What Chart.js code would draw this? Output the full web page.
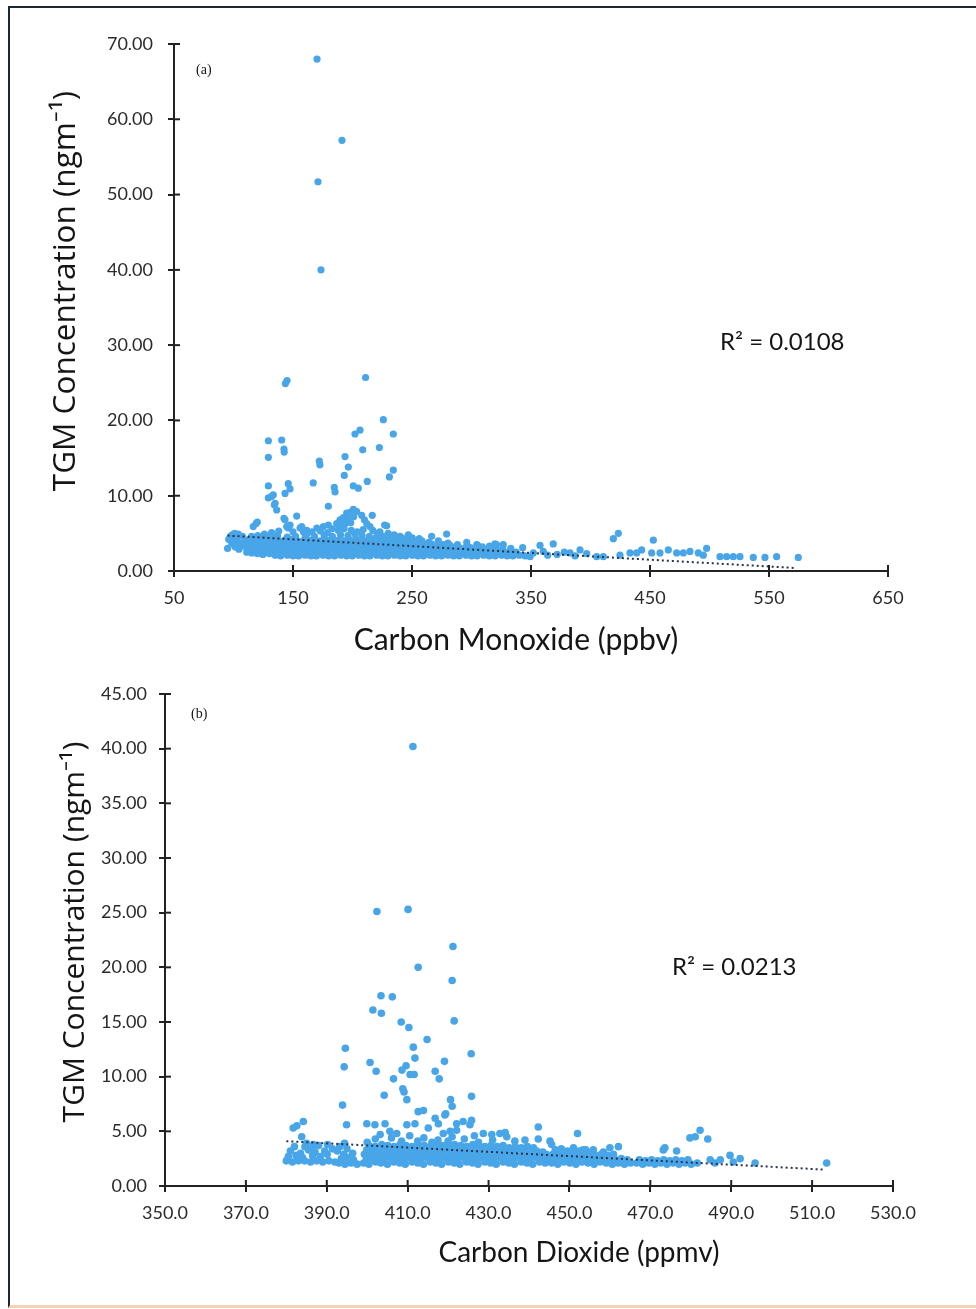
<!DOCTYPE html>
<html>
<head>
<meta charset="utf-8">
<script src="https://cdn.jsdelivr.net/npm/chart.js@4.4.1/dist/chart.umd.min.js"></script>
<style>
  html, body { margin: 0; padding: 0; background: #fff; }
  #page { position: relative; width: 976px; height: 1309px; overflow: hidden; background: #fff; }
  #frame { position: absolute; left: 8px; top: 6px; width: 1000px; height: 1297px;
           border-left: 2px solid #1d2633; border-top: 2px solid #1d2633; border-bottom: 3px solid #f3d4b2; }
  canvas { position: absolute; left: 0; }
  #chartA { top: 0; }
  #chartB { top: 660px; }
</style>
</head>
<body>
<div id="page">
  <div id="frame"></div>
  <canvas id="chartA" width="976" height="660"></canvas>
  <canvas id="chartB" width="976" height="649"></canvas>
</div>
<script>
// ---- (a) Carbon Monoxide vs TGM ----
const coPeaks = [[170.2,68.0],[191.2,57.2],[171.0,51.7],[173.5,40.0],[145.0,25.3],[143.6,24.9],[211.0,25.7],
  [225.9,20.1],[234.3,18.2],[206.3,18.7],[202.1,18.2],[208.6,16.1],[222.6,16.4],[193.7,15.2],[196.5,13.8],
  [172.1,14.6],[172.6,14.1],[234.3,13.4],[231.0,12.5],[193.1,12.7],[167.0,11.7],[212.4,11.9],[200.7,11.3],
  [204.9,11.0],[184.7,11.1],[185.3,10.5],[129.3,17.3],[140.5,17.4],[129.3,15.1],[142.4,16.2],[142.6,15.8],
  [129.3,11.3],[146.0,11.6],[147.5,10.9],[143.3,10.3],[129.3,9.7],[133.4,10.1],[134.3,8.8],[136.3,8.1],
  [132.0,9.9],[135.0,9.0]];
const coSpread = [[179.7,8.6],[153.1,7.3],[142.4,7.0],[143.3,6.8],[216.6,7.4],[228.7,6.0],[227.0,6.1],[223.0,5.2],
  [118.9,6.3],[116.6,5.9],[120.0,6.5],[144.7,5.9],[146.0,5.7],[155.9,5.7],[158.7,5.2],[157.3,5.9],[161.5,5.4],
  [147.5,6.1],[170.0,5.7],[175.5,5.9],[179.7,6.1],[186.7,6.3],[192.3,7.1],[195.1,7.7],[200.7,8.2],[198.0,7.8],
  [203.5,7.9],[207.7,7.4],[189.5,6.8],[196.0,6.9],[201.0,7.2],[210.0,6.8],[212.0,6.3],[214.7,5.9],[190.0,6.1],
  [194.0,6.3],[198.5,6.4],[183.0,5.6],[188.0,5.4],[193.0,5.6],[199.0,5.4],[204.0,5.2],[209.0,5.5],[217.0,5.4],
  [221.0,5.0],[166.0,5.2],[173.0,5.3],[179.0,5.1],[162.0,5.0],[230.0,5.0],[235.0,4.8],[240.0,4.6],[246.9,4.8],
  [266.5,4.6],[272.1,4.0],[279.1,4.9],[296.0,3.8],[304.4,3.5],[319.7,3.6],[326.7,3.5],[138.0,5.3],[132.0,5.1],
  [126.0,4.9],[150.0,5.2],[104.0,4.9],[99.0,4.8],[101.0,5.0],
  [95.0,3.0],[96.0,4.2],[97.5,4.6],[98.5,3.6],[100.0,4.3],[101.5,3.2],[103.0,4.0],[104.5,2.9],[106.0,3.7],
  [107.5,4.6],[109.0,3.3],[110.5,4.1],[111.1,2.5],[113.0,3.6]];
const coBandLow = [[115.4,2.4],[120.1,2.3],[124.7,2.2],[130.2,2.3],[135.0,2.1],[139.6,2.0],[145.3,2.1],[150.1,2.0],
  [154.8,2.0],[160.2,2.1],[165.1,2.0],[169.7,2.0],[175.2,2.1],[180.0,2.0],[184.9,2.0],[190.3,2.1],[195.1,2.0],
  [199.8,2.0],[205.2,2.1],[210.0,2.0],[214.7,2.0],[220.3,2.1],[225.0,2.0],[229.8,2.0],[235.2,2.1],[240.1,2.0],
  [244.8,2.0],[250.3,2.1],[255.0,2.0],[259.7,2.0],[265.2,2.1],[270.0,2.0],[274.9,2.0],[280.2,2.1],[285.1,2.0],
  [289.8,2.0],[295.3,2.1],[300.0,2.0],[304.7,2.0],[310.2,2.1],[315.0,2.0],[319.9,2.0],[325.3,2.1],[330.0,2.0],
  [334.8,2.0],[340.1,2.1],
  [117.6,2.7],[122.4,2.6],[127.5,2.5],[132.3,2.7],[137.6,2.6],[142.4,2.5],[147.7,2.6],[152.5,2.7],[157.3,2.5],
  [162.6,2.6],[167.4,2.7],[172.5,2.5],[177.6,2.6],[182.3,2.6],[187.5,2.7],[192.6,2.5],[197.4,2.6],[202.5,2.6],
  [207.7,2.7],[212.3,2.5],[217.5,2.6],[222.6,2.6],[227.4,2.7],[232.5,2.5],[237.6,2.6],[242.3,2.6],[247.5,2.7],
  [252.6,2.5],[257.4,2.6],[262.5,2.6],[267.6,2.7],[272.3,2.5],[277.5,2.6],[282.6,2.6],[287.4,2.7],[292.5,2.5],
  [297.6,2.6],[302.3,2.6],[307.5,2.7],[312.6,2.5],[317.4,2.6],[322.5,2.6],[327.6,2.5],[332.4,2.7],[337.5,2.5]];
const coBandMid = [[114.2,3.1],[119.0,3.2],[124.3,3.0],[129.1,3.1],[134.2,3.2],[139.0,3.0],[144.3,3.1],[149.1,3.2],
  [154.2,3.1],[159.0,3.0],[164.3,3.1],[169.1,3.2],[174.2,3.0],[179.0,3.1],[184.3,3.2],[189.1,3.1],[194.2,3.0],
  [199.0,3.1],[204.3,3.2],[209.1,3.0],[214.2,3.1],[219.0,3.2],[224.3,3.1],[229.1,3.0],[234.2,3.1],[239.0,3.2],
  [244.3,3.0],[249.1,3.1],[254.2,3.2],[259.0,3.1],[264.3,3.0],[269.1,3.1],[274.2,3.2],[279.0,3.0],[284.3,3.1],
  [289.1,3.2],[294.2,3.0],[299.0,3.1],[304.3,3.0],[309.1,3.2],[314.2,3.0],[320.0,3.1],[326.1,2.9],[333.0,3.0],
  [116.3,3.6],[121.1,3.7],[126.2,3.5],[131.0,3.6],[136.3,3.7],[141.1,3.5],[146.2,3.6],[151.0,3.7],[156.3,3.6],
  [161.1,3.5],[166.2,3.6],[171.0,3.7],[176.3,3.5],[181.1,3.6],[186.2,3.7],[191.0,3.6],[196.3,3.5],[201.1,3.6],
  [206.2,3.7],[211.0,3.5],[216.3,3.6],[221.1,3.7],[226.2,3.6],[231.0,3.5],[236.3,3.6],[241.1,3.7],[246.2,3.5],
  [251.0,3.6],[256.3,3.6],[261.1,3.5],[266.2,3.6],[271.0,3.4],[276.3,3.5],[282.0,3.4],[288.2,3.5],[296.0,3.3],
  [305.1,3.4],[315.2,3.3],[321.0,3.5]];
const coBandHigh = [[113.8,4.1],[118.3,4.2],[123.1,4.0],[128.2,4.1],[133.0,4.2],[138.3,4.0],[143.1,4.1],[148.2,4.2],
  [153.0,4.1],[158.3,4.0],[163.1,4.1],[168.2,4.2],[173.0,4.0],[178.3,4.1],[183.1,4.2],[188.2,4.1],[193.0,4.0],
  [198.3,4.1],[203.1,4.2],[208.2,4.0],[213.0,4.1],[218.3,4.2],[223.1,4.0],[228.2,4.1],[233.0,4.0],[238.3,4.1],
  [243.1,3.9],[248.2,4.0],[253.0,3.9],[258.3,4.0],[264.1,3.8],[272.0,3.9],[280.2,3.7],
  [115.2,4.6],[120.4,4.7],[126.1,4.5],[131.3,4.6],[137.0,4.7],[145.2,4.5],[152.1,4.6],[160.3,4.5],[168.0,4.6],
  [176.2,4.7],[183.1,4.6],[190.0,4.8],[196.2,4.7],[202.1,4.9],[208.0,4.7],[214.2,4.6],[220.1,4.5],[226.0,4.6],
  [232.2,4.4],[238.1,4.5],[244.0,4.3],[250.2,4.4],[256.1,4.3]];
const coTail = [[343.0,3.1],[345.0,2.0],[349.2,1.9],[352.0,2.4],[357.6,3.4],[360.3,2.6],[364.0,2.1],[368.7,3.6],
  [372.0,2.2],[378.0,2.5],[382.8,2.4],[387.0,2.0],[391.2,2.8],[396.8,2.3],[405.2,1.9],[410.8,1.9],[419.2,4.3],
  [423.4,5.0],[424.8,2.1],[433.2,2.4],[438.8,2.4],[443.0,2.8],[451.4,2.4],[452.8,4.1],[458.4,2.4],[465.4,2.8],
  [472.4,2.4],[478.0,2.4],[483.6,2.6],[490.6,2.4],[494.8,2.1],[497.6,3.0],[508.8,1.9],[514.4,1.9],[520.0,1.9],
  [525.6,1.9],[536.8,1.8],[546.6,1.8],[556.4,1.9],[574.6,1.8]];
const coTrend = [[95, 4.7], [572, 0.4]];
const coTicksX = [50, 650, 100];
const coTicksY = [0, 70, 10];

// ---- (b) Carbon Dioxide vs TGM ----
const co2Peaks = [[411.3,40.2],[402.4,25.1],[410.1,25.3],[421.2,21.9],[412.6,20.0],[421.0,18.8],[403.4,17.4],
  [406.2,17.3],[401.4,16.1],[403.5,15.8],[408.4,15.0],[410.3,14.5],[421.5,15.1],[414.8,13.4],[411.4,12.7],
  [411.8,11.7],[394.6,12.6],[425.7,12.1],[394.3,10.9],[400.7,11.3],[402.2,10.5],[408.6,10.6],[409.6,11.0],
  [410.6,10.2],[411.6,10.2],[406.5,9.8],[416.8,10.5],[417.8,9.8],[419.1,11.4],[408.8,8.9],[409.1,8.6],
  [409.8,7.9],[404.2,8.3],[393.9,7.4],[420.6,7.9],[421.0,7.3],[425.8,8.2],[412.6,6.8],[413.9,6.9],[419.4,6.6]];
const co2Spread = [[381.7,5.3],[382.6,5.5],[384.2,5.9],[383.8,4.5],[385.0,3.9],[386.7,3.8],[394.9,5.6],[399.9,5.7],
  [401.9,5.6],[404.4,5.7],[405.6,5.0],[407.3,4.8],[403.2,4.7],[409.8,5.6],[411.8,5.7],[416.8,6.2],[417.6,5.7],
  [419.2,6.5],[415.1,5.3],[422.1,5.7],[423.7,5.9],[425.4,5.6],[425.8,6.0],[418.8,4.8],[420.5,5.0],[422.1,5.1],
  [428.7,4.8],[430.8,4.7],[432.8,4.8],[434.5,4.5],[434.1,4.9],[442.3,5.4],[442.3,4.3],[445.2,4.1],[445.6,3.8],
  [452.0,4.8],[451.0,3.5],[453.4,3.3],[455.9,3.3],[458.4,3.1],[460.0,3.5],[462.1,3.6],[473.2,3.3],[473.6,3.5],
  [476.5,3.2],[479.8,4.4],[481.1,4.5],[482.3,5.1],[484.2,4.3],[402.0,4.3],[406.0,4.4],[410.5,4.6],[414.0,4.4],
  [417.5,4.2],[421.0,4.5],[424.0,4.3],[426.5,4.6],[400.0,4.0],[427.5,4.0],[431.0,4.2],[436.5,4.1],[439.0,4.2],
  [408.5,4.1],[412.5,4.1],[416.0,4.0],[420.0,4.1]];
const co2BandLeft = [[380.0,2.3],[381.5,2.2],[383.0,2.3],[384.5,2.3],[386.0,2.2],[387.5,2.3],[389.0,2.2],[390.5,2.3],
  [392.0,2.2],[380.5,2.7],[382.4,2.8],[384.0,2.6],[386.5,2.8],[388.4,2.7],[390.1,2.9],[381.0,3.2],[383.5,3.0],
  [385.5,3.3],[387.1,3.1],[389.5,3.2],[391.4,3.4],[382.0,3.6],[384.6,3.6],[386.4,3.4],[388.0,3.7],[390.2,3.8],
  [393.0,2.1],[394.5,2.0],[396.0,2.1],[397.5,2.0],[393.6,2.5],[395.1,2.6],[396.6,2.4],[394.2,2.9],[396.4,3.0],
  [395.0,3.4],[393.2,3.6],[394.4,3.9],[392.6,3.2]];
const co2BandLow = [[399.1,2.1],[400.4,2.0],[402.1,2.2],[403.4,2.1],[405.0,2.0],[406.6,2.2],[408.0,2.1],[409.4,2.0],
  [411.1,2.2],[412.5,2.1],[413.9,2.0],[415.6,2.2],[417.0,2.1],[418.4,2.0],[420.1,2.2],[421.5,2.1],[422.9,2.0],
  [424.6,2.2],[426.0,2.1],[427.4,2.0],[429.1,2.2],[430.5,2.1],[431.9,2.0],[433.6,2.2],[435.0,2.1],[436.4,2.0],
  [438.1,2.2],[439.5,2.1],[440.9,2.0],[442.6,2.2],[444.0,2.1],
  [399.8,2.5],[401.2,2.6],[402.8,2.4],[404.2,2.5],[405.8,2.6],[407.2,2.4],[408.8,2.5],[410.2,2.6],[411.8,2.4],
  [413.2,2.5],[414.8,2.6],[416.2,2.4],[417.8,2.5],[419.2,2.6],[420.8,2.4],[422.2,2.5],[423.8,2.6],[425.2,2.4],
  [426.8,2.5],[428.2,2.6],[429.8,2.4],[431.2,2.5],[432.8,2.6],[434.2,2.4],[435.8,2.5],[437.2,2.6],[438.8,2.4],
  [440.2,2.5],[441.8,2.6],[443.2,2.4],[444.8,2.5]];
const co2BandHigh = [[399.3,2.9],[400.7,3.0],[402.3,2.8],[403.7,2.9],[405.3,3.0],[406.7,2.8],[408.3,2.9],[409.7,3.0],
  [411.3,2.8],[412.7,2.9],[414.3,3.0],[415.7,2.8],[417.3,2.9],[418.7,3.0],[420.3,2.8],[421.7,2.9],[423.3,3.0],
  [424.7,2.8],[426.3,2.9],[427.7,3.0],[429.3,2.8],[430.7,2.9],[432.3,3.0],[433.7,2.8],[435.3,2.9],[436.7,3.0],
  [438.3,2.8],[439.7,2.9],[441.3,3.0],[442.7,2.8],[444.3,2.9],
  [399.9,3.3],[401.4,3.4],[402.9,3.2],[404.4,3.3],[405.9,3.4],[407.4,3.2],[408.9,3.3],[410.4,3.4],[411.9,3.2],
  [413.4,3.3],[414.9,3.4],[416.4,3.2],[417.9,3.3],[419.4,3.4],[420.9,3.2],[422.4,3.3],[423.9,3.4],[425.4,3.2],
  [426.9,3.3],[428.4,3.4],[429.9,3.2],[431.4,3.3],[432.9,3.4],[434.4,3.2],[435.9,3.3],[437.4,3.4],[438.9,3.2],
  [440.4,3.3],[441.9,3.2],[443.4,3.1],
  [400.5,3.7],[402.0,3.6],[403.6,3.8],[405.1,3.7],[406.6,3.6],[408.1,3.8],[409.6,3.7],[411.1,3.6],[412.6,3.8],
  [414.1,3.7],[415.6,3.6],[417.1,3.8],[418.6,3.7],[420.1,3.6],[421.6,3.8],[423.1,3.7],[424.6,3.6],[426.1,3.8],
  [427.6,3.7],[429.1,3.6],[430.6,3.7],[432.1,3.6],[433.6,3.7],[435.1,3.5],[436.6,3.6],[438.1,3.5],[439.6,3.6],
  [441.1,3.5]];
const co2BandRight = [[445.6,2.1],[447.1,2.0],[448.6,2.2],[450.1,2.1],[451.6,2.0],[453.1,2.2],[454.6,2.1],[456.1,2.0],
  [457.6,2.2],[459.1,2.1],[460.6,2.0],[462.1,2.1],[463.6,2.0],[465.1,2.1],
  [446.3,2.5],[447.8,2.6],[449.3,2.4],[450.8,2.5],[452.3,2.6],[453.8,2.4],[455.3,2.5],[456.8,2.6],[458.3,2.4],
  [459.8,2.5],[461.3,2.4],[462.8,2.5],[464.3,2.4],
  [445.9,2.9],[447.4,3.0],[448.9,2.8],[450.4,2.9],[451.9,3.0],[453.4,2.8],[454.9,2.9],[456.4,2.8],[457.9,2.9],
  [459.4,2.8],[460.9,2.9],
  [446.5,3.3],[448.0,3.4],[449.5,3.2],[451.0,3.3],[452.5,3.2],[454.0,3.3],[455.5,3.1],
  [466.6,2.1],[468.1,2.0],[469.6,2.1],[471.1,2.0],[472.6,2.1],[474.1,2.0],[475.6,2.1],[477.1,2.0],[478.6,2.1],
  [480.1,2.0],[481.6,2.1],
  [467.3,2.4],[468.8,2.3],[470.3,2.4],[471.8,2.3],[473.3,2.4],[474.8,2.3],[476.3,2.4],[477.8,2.3],[479.3,2.4]];
const co2Tail = [[484.8,2.4],[486.0,2.1],[487.3,2.4],[489.7,2.8],[490.5,2.2],[492.2,2.5],[495.9,2.1],[513.6,2.1]];
const co2Trend = [[380, 4.1], [513, 1.5]];
const co2TicksX = [350, 530, 20];
const co2TicksY = [0, 45, 5];

const toXY = arr => arr.map(p => ({ x: p[0], y: p[1] }));

// inner half of the cross ticks, axis titles, R² and panel letters
const decor = {
  id: 'decor',
  afterDraw(chart, args, o) {
    const { ctx, scales: { x, y } } = chart;
    ctx.save();
    ctx.strokeStyle = '#222';
    ctx.lineWidth = 2;
    x.ticks.forEach(t => {
      const px = x.getPixelForValue(t.value);
      ctx.beginPath(); ctx.moveTo(px, y.bottom); ctx.lineTo(px, y.bottom - 6); ctx.stroke();
    });
    y.ticks.forEach(t => {
      const py = y.getPixelForValue(t.value);
      ctx.beginPath(); ctx.moveTo(x.left, py); ctx.lineTo(x.left + 6, py); ctx.stroke();
    });
    ctx.fillStyle = '#151515';
    ctx.font = o.rFont;
    ctx.textAlign = 'left';
    ctx.textBaseline = 'alphabetic';
    ctx.fillText(o.rText, o.rX, o.rY);
    ctx.font = '14px "Liberation Serif"';
    ctx.textBaseline = 'middle';
    ctx.fillText(o.panel, o.pX, o.pY);
    ctx.textAlign = 'center';
    ctx.font = o.xFont;
    ctx.fillText(o.xText, o.xX, o.xY);
    ctx.translate(o.tX, o.tY);
    ctx.rotate(-Math.PI / 2);
    ctx.font = o.tFont;
    ctx.fillText('TGM Concentration (ngm\u207B\u00B9)', 0, 0);
    ctx.restore();
  }
};

function makeChart(id, cfg) {
  return new Chart(document.getElementById(id), {
    type: 'scatter',
    data: {
      datasets: [
        { type: 'line', data: toXY(cfg.trend), borderColor: '#26344e', borderWidth: 2, borderDash: [2, 3],
          pointRadius: 0, fill: false, order: 0 },
        { data: toXY(cfg.points), backgroundColor: '#48a6e8', borderWidth: 0, pointRadius: cfg.radius,
          pointHoverRadius: cfg.radius, order: 1 }
      ]
    },
    options: {
      responsive: false,
      animation: false,
      devicePixelRatio: 1,
      layout: { padding: cfg.padding },
      plugins: { legend: { display: false }, tooltip: { enabled: false }, decor: cfg.decor },
      scales: {
        x: {
          type: 'linear', min: cfg.ticksX[0], max: cfg.ticksX[1],
          ticks: { stepSize: cfg.ticksX[2], font: { family: 'Lato', size: 18 }, color: '#2b2b2b', padding: 10,
                   maxRotation: 0, callback: cfg.fmtX },
          grid: { drawOnChartArea: false, drawTicks: true, tickLength: 6, color: '#222', lineWidth: 2 },
          border: { display: true, color: '#222', width: 2 },
          afterFit(s) { s.height = cfg.xHeight; }
        },
        y: {
          type: 'linear', min: cfg.ticksY[0], max: cfg.ticksY[1],
          ticks: { stepSize: cfg.ticksY[2], font: { family: 'Lato', size: 18 }, color: '#2b2b2b', padding: cfg.yPad,
                   callback: v => v.toFixed(2) },
          grid: { drawOnChartArea: false, drawTicks: true, tickLength: 6, color: '#222', lineWidth: 2 },
          border: { display: true, color: '#222', width: 2 },
          afterFit(s) { s.width = cfg.yWidth; }
        }
      }
    },
    plugins: [decor]
  });
}

makeChart('chartA', {
  points: [...coPeaks, ...coSpread, ...coBandLow, ...coBandMid, ...coBandHigh, ...coTail],
  trend: coTrend, radius: 3.6, ticksX: coTicksX, ticksY: coTicksY,
  fmtX: v => String(v), xHeight: 89,
  yWidth: 174, yPad: 15, padding: { left: 0, top: 44, right: 88, bottom: 0 },
  decor: { rText: 'R\u00B2 = 0.0108', rFont: '24px Lato', rX: 720, rY: 350,
           panel: '(a)', pX: 196, pY: 70, tX: 66, tY: 291, tFont: '31.5px "Open Sans"',
           xText: 'Carbon Monoxide (ppbv)', xFont: '30px Lato', xX: 516, xY: 640 }
});

makeChart('chartB', {
  points: [...co2Peaks, ...co2Spread, ...co2BandLeft, ...co2BandLow, ...co2BandHigh, ...co2BandRight, ...co2Tail],
  trend: co2Trend, radius: 3.8, ticksX: co2TicksX, ticksY: co2TicksY,
  fmtX: v => v.toFixed(1), xHeight: 123,
  yWidth: 165, yPad: 12, padding: { left: 0, top: 34, right: 83, bottom: 0 },
  decor: { rText: 'R\u00B2 = 0.0213', rFont: '24px Lato', rX: 672, rY: 315,
           panel: '(b)', pX: 191, pY: 54, tX: 75, tY: 272, tFont: '30px "Open Sans"',
           xText: 'Carbon Dioxide (ppmv)', xFont: '28px Lato', xX: 579, xY: 593 }
});
</script>
</body>
</html>
